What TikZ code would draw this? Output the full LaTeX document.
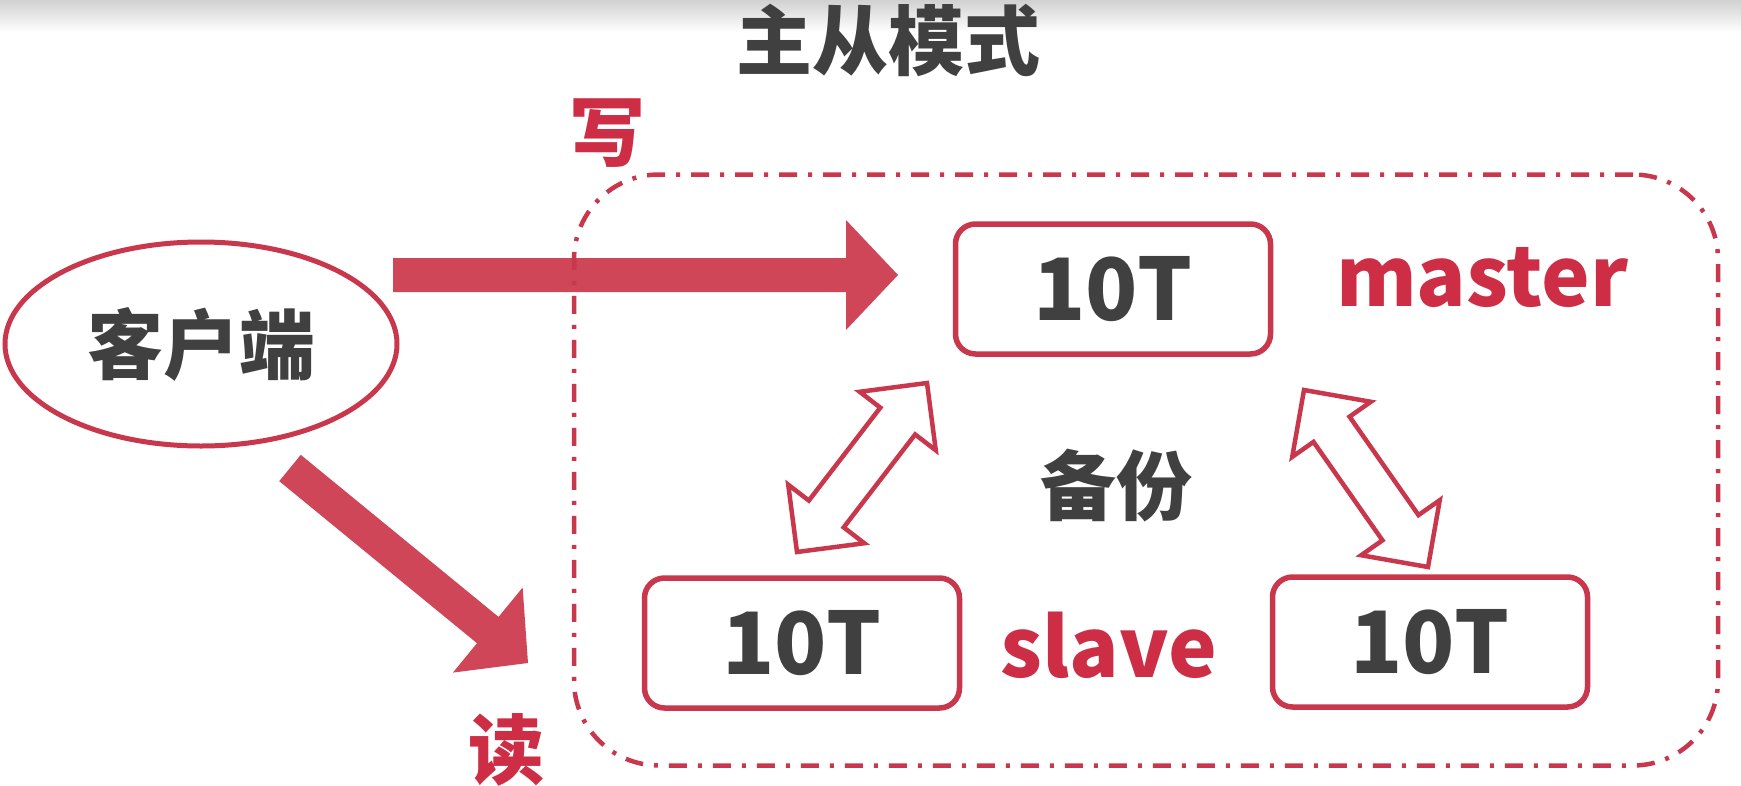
\documentclass[tikz,border=0pt]{standalone}
\usepackage{fontspec}
\newfontfamily\cjk{Noto Sans CJK SC}
\usetikzlibrary{arrows.meta,calc,shapes.geometric,positioning}
\definecolor{arrred}{RGB}{207,70,88}
\definecolor{boxred}{RGB}{200,55,76}
\definecolor{txtred}{RGB}{205,46,70}
\definecolor{txtgray}{RGB}{64,64,64}
% block arrow: shaft half width \sw, head half width \hw, head length \hl
\newcommand{\blockarrow}[3][]{%
  \fill[#1] ($(#2)!\sw!90:(#3)$) -- ($(#3)!\hl!(#2)!\sw!-90:(#2)$)
    -- ($(#3)!\hl!(#2)!\hw!-90:(#2)$) -- (#3)
    -- ($(#3)!\hl!(#2)!\hw!90:(#2)$) -- ($(#3)!\hl!(#2)!\sw!90:(#2)$)
    -- ($(#2)!\sw!-90:(#3)$) -- cycle;}
\newcommand{\twowayarrow}[3][]{%
  \filldraw[#1] (#2) -- ($(#2)!\hl!(#3)!\hw!90:(#3)$) -- ($(#2)!\hl!(#3)!\sw!90:(#3)$)
    -- ($(#3)!\hl!(#2)!\sw!-90:(#2)$) -- ($(#3)!\hl!(#2)!\hw!-90:(#2)$) -- (#3)
    -- ($(#3)!\hl!(#2)!\hw!90:(#2)$) -- ($(#3)!\hl!(#2)!\sw!90:(#2)$)
    -- ($(#2)!\hl!(#3)!\sw!-90:(#3)$) -- ($(#2)!\hl!(#3)!\hw!-90:(#3)$) -- cycle;}

\begin{document}
\begin{tikzpicture}[x=1pt,y=-1pt,
    bigcjk/.style={font=\cjk\bfseries\fontsize{76}{76}\selectfont,inner sep=0pt},
    store/.style={draw=boxred,line width=5.5pt,rounded corners=20pt,fill=white,
      minimum width=315pt,minimum height=130pt,text=txtgray,
      font=\cjk\bfseries\fontsize{86}{86}\selectfont},
    role/.style={text=txtred,font=\cjk\bfseries\fontsize{82}{82}\selectfont,inner sep=0pt}]
  \useasboundingbox (0,0) rectangle (1741,785);
  \shade[top color=black!18,bottom color=white] (0,0) rectangle (1741,32);

  \node[bigcjk,text=txtgray] (title) at (888,40) {主从模式};

  \node[ellipse,draw=boxred,line width=5pt,minimum width=392pt,minimum height=204pt,
        bigcjk,text=txtgray] (client) at (201,344) {客户端};

  \node[store] (master) at (1113,289) {10T};
  \node[store] (slaveA) at (802,643) {10T};
  \node[store] (slaveB) at (1430,642) {10T};

  \node[role,anchor=base] (mlabel) at (1482,306) {master};
  \node[role,anchor=base] (slabel) at (1109,677) {slave};
  \node[bigcjk,text=txtgray] (backup) at (1116,486) {备份};
  \node[bigcjk,text=txtred] (write) at (607,133) {写};
  \node[bigcjk,text=txtred] (read) at (506,750) {读};

  % write and read paths
  \coordinate (w0) at (393,275); \coordinate (w1) at (898,275);
  \coordinate (r0) at (290,468); \coordinate (r1) at (528,663);
  \def\sw{17pt}\def\hw{55pt}\def\hl{52pt}
  \blockarrow[arrred]{w0}{w1}
  \blockarrow[arrred]{r0}{r1}

  % replica group
  \node[draw=boxred,line width=4.5pt,rounded corners=85pt,
        dash pattern=on 18pt off 11pt on 4pt off 11pt,
        minimum width=1144pt,minimum height=591pt] (group) at (1146,470) {};

  % backup between master and slaves
  \coordinate (s1) at (797,552); \coordinate (m1) at (927,383);
  \coordinate (s2) at (1428,567); \coordinate (m2) at (1304,390);
  \def\sw{22pt}\def\hw{48pt}\def\hl{48pt}
  \twowayarrow[draw=boxred,fill=white,line width=4.5pt]{s1}{m1}
  \twowayarrow[draw=boxred,fill=white,line width=4.5pt]{s2}{m2}
\end{tikzpicture}
\end{document}
